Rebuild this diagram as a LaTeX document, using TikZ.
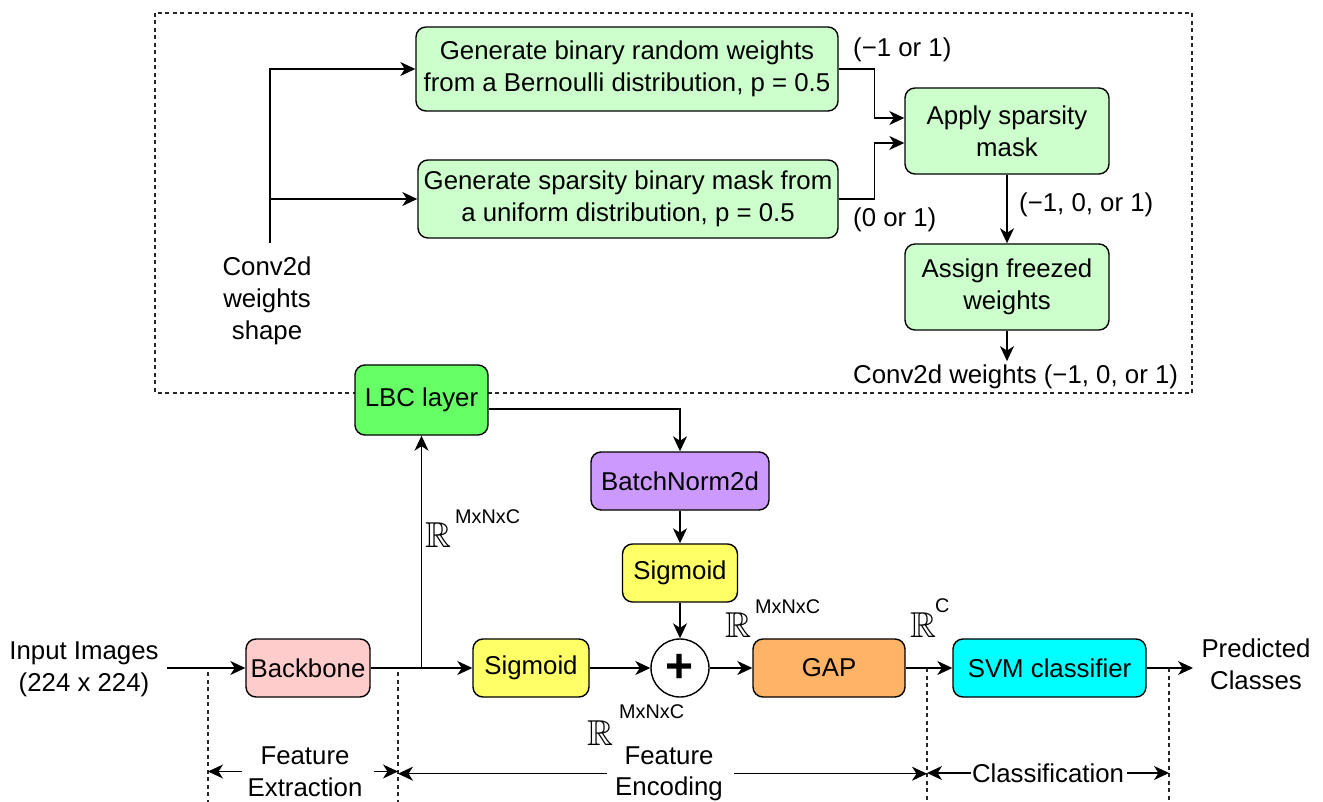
\documentclass[tikz,border=0pt]{standalone}
\usepackage{amssymb}
\usepackage{fontspec}
\setmainfont{Liberation Sans}
\usetikzlibrary{arrows.meta}
\definecolor{gfill}{HTML}{CCFFCC}
\definecolor{lbcg}{HTML}{66FF66}
\definecolor{bnp}{HTML}{CC99FF}
\definecolor{sigy}{HTML}{FFFF66}
\definecolor{bbp}{HTML}{FFCCCC}
\definecolor{gapo}{HTML}{FFB366}
\definecolor{svmc}{HTML}{00FFFF}
\begin{document}
\begin{tikzpicture}[x=1pt,y=-1pt,
  every node/.style={font=\fontsize{25.8}{31.7}\selectfont},
  box/.style={draw=black, line width=1.4pt, rounded corners=10pt, inner sep=0pt, align=center},
  arr/.style={-{Stealth[length=15pt,width=14pt,inset=4.5pt]}, line width=1.4pt},
  dsh/.style={dash pattern=on 4pt off 3.5pt, line width=1.1pt, draw=black!85},
  lbl/.style={inner sep=3pt, align=center},
  rlbl/.style={inner sep=0pt, anchor=base west},
]
\fill[white] (0,0) rectangle (1323,802);
\useasboundingbox (0,0) rectangle (1323,802);

% dashed frame
\draw[dsh] (155,13) rectangle (1192,393);

% top part
\node[box, fill=gfill, minimum width=422pt, minimum height=84pt] (gen1) at (627,69) {Generate binary random weights\\from a Bernoulli distribution, p = 0.5};
\node[box, fill=gfill, minimum width=420pt, minimum height=78pt] (gen2) at (628,199) {Generate sparsity binary mask from\\a uniform distribution, p = 0.5};
\node[box, fill=gfill, minimum width=204pt, minimum height=86pt] (apply) at (1007,131) {Apply sparsity\\mask};
\node[box, fill=gfill, minimum width=204pt, minimum height=86pt] (assign) at (1007,287) {Assign freezed\\weights};

\node[lbl] (shape) at (267,300.7) {Conv2d\\weights\\shape};
\coordinate (sb) at (270,243);
\coordinate (sm) at (270,199);
\draw[arr] (sb) |- (gen1.west);
\draw[arr] (sm) -- (gen2.west);

\draw[arr] (gen1.east) -- ++(36,0) |- ([yshift=13pt]apply.west);
\draw[arr] (gen2.east) -- ++(36,0) |- ([yshift=-12pt]apply.west);
\draw[arr] (apply) -- (assign);

\node[lbl, anchor=base west] (l1) at (850,57) {(−1 or 1)};
\node[lbl, anchor=base west] (l2) at (850,227) {(0 or 1)};
\node[lbl, anchor=base west] (l3) at (1016,212) {(−1, 0, or 1)};
\node[lbl, anchor=base west] (outw) at (850,383) {Conv2d weights (−1, 0, or 1)};
\draw[arr] (assign.south) -- (assign.south |- outw.north);

% middle
\node[box, fill=lbcg, minimum width=133pt, minimum height=70pt] (lbc) at (421.5,400) {LBC layer};
\node[box, fill=bnp, minimum width=178pt, minimum height=58pt] (bn) at (680,481) {BatchNorm2d};
\node[box, fill=sigy, minimum width=115pt, minimum height=58pt] (sig2) at (680,573) {Sigmoid};

% main row
\node[box, fill=bbp, minimum width=124pt, minimum height=58pt] (backbone) at (308,668) {Backbone};
\node[box, fill=sigy, minimum width=116pt, minimum height=58pt] (sig1) at (531,668) {Sigmoid};
\node[circle, draw=black, line width=1.4pt, fill=white, minimum size=58pt, inner sep=0pt, font=\fontsize{48}{48}\selectfont\bfseries] (plus) at (680,668) {+};
\node[box, fill=gapo, minimum width=152pt, minimum height=58pt] (gap) at (829,668) {GAP};
\node[box, fill=svmc, minimum width=193pt, minimum height=58pt] (svm) at (1049.5,668) {SVM classifier};

\node[lbl] (inp) at (84,669) {Input Images\\(224 x 224)};
\node[lbl] (pred) at (1256,664.5) {Predicted\\Classes};
\coordinate (inarr) at (167,668);
\coordinate (outarr) at (1193,668);

\draw[arr] (inarr) -- (backbone.west);
\draw[arr] (backbone.east) -- (sig1.west);
\coordinate (brL) at (lbc.south |- backbone.east);
\draw[arr] (brL) -- (lbc.south);
\draw[arr] ([yshift=-9pt]lbc.east) -| (bn.north);
\draw[arr] (bn) -- (sig2);
\draw[arr] (sig2) -- (plus);
\draw[arr] (sig1) -- (plus);
\draw[arr] (plus) -- (gap);
\draw[arr] (gap) -- (svm);
\draw[arr] (svm.east) -- (outarr);

% R labels
\node[rlbl] (r1) at (425,547) {{\fontsize{36}{36}\selectfont$\mathbb{R}$}\hspace{4pt}\raisebox{24pt}{\fontsize{19.8}{24}\selectfont MxNxC}};
\node[rlbl] (r2) at (725,637) {{\fontsize{36}{36}\selectfont$\mathbb{R}$}\hspace{4pt}\raisebox{24pt}{\fontsize{19.8}{24}\selectfont MxNxC}};
\node[rlbl] (r3) at (587,745) {{\fontsize{36}{36}\selectfont$\mathbb{R}$}\hspace{6pt}\raisebox{27pt}{\fontsize{19.8}{24}\selectfont MxNxC}};
\node[rlbl] (r4) at (910,637) {{\fontsize{36}{36}\selectfont$\mathbb{R}$}\hspace{-1pt}\raisebox{25pt}{\fontsize{19.8}{24}\selectfont C}};

% stage separators
\coordinate (d1t) at (208,672); \coordinate (d1b) at (208,802);
\coordinate (d2t) at (398,672); \coordinate (d2b) at (398,802);
\coordinate (d3t) at (927,668); \coordinate (d3b) at (927,802);
\coordinate (d4t) at (1169,668); \coordinate (d4b) at (1169,802);
\draw[dsh] (d1t) -- (d1b);
\draw[dsh] (d2t) -- (d2b);
\draw[dsh] (d3t) -- (d3b);
\draw[dsh] (d4t) -- (d4b);

\node[lbl] (fe) at (305,771.5) {Feature\\Extraction};
\node[lbl] (enc) at (669,773.7) {Feature\\Encoding};
\node[lbl] (cls) at (1048,773) {Classification};

\draw[arr] ([xshift=-2pt]fe.west) -- (fe.west -| d1t);
\draw[arr] ([xshift=8pt]fe.east) -- (fe.east -| d2t);
\draw[arr] ([xshift=-5pt]enc.west) -- (enc.west -| d2t);
\draw[arr] ([xshift=8pt]enc.east) -- (enc.east -| d3t);
\draw[arr] ([xshift=2pt]cls.west) -- (cls.west -| d3t);
\draw[arr] (cls.east) -- (cls.east -| d4t);
\end{tikzpicture}
\end{document}
